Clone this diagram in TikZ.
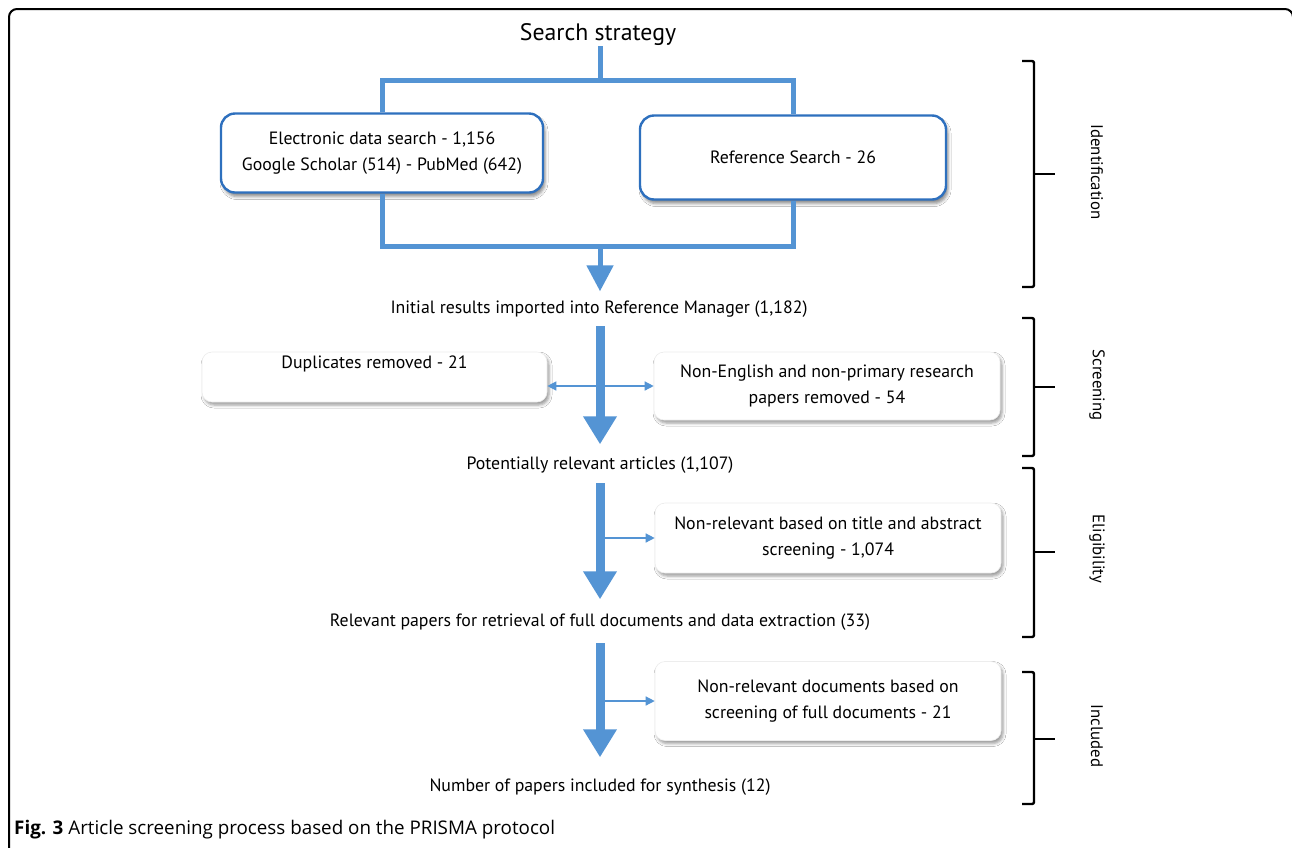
\documentclass[tikz,border=0pt]{standalone}
\usepackage{fontspec}
\setmainfont{PT Sans}
\newfontfamily\capfont{Open Sans}
\usetikzlibrary{arrows.meta,shadows.blur}
\definecolor{lineblue}{RGB}{84,148,212}
\definecolor{boxblue}{RGB}{46,112,190}
\begin{document}
\begin{tikzpicture}[x=1pt,y=-1pt,
  idbox/.style={draw=boxblue, line width=2.4pt, fill=white, rounded corners=14pt,
    align=center, font=\fontsize{17.8}{26}\selectfont, inner sep=0pt,
    blur shadow={shadow xshift=2pt, shadow yshift=-4pt, shadow blur radius=3pt, shadow opacity=45}},
  graybox/.style={draw=black!7, line width=0.6pt, fill=white, rounded corners=10pt,
    align=center, font=\fontsize{17.8}{26.5}\selectfont, inner sep=0pt,
    blur shadow={shadow xshift=2pt, shadow yshift=-3pt, shadow blur radius=3pt, shadow opacity=40}},
  lbl/.style={font=\fontsize{17.8}{20}\selectfont, inner sep=0pt, minimum height=17pt},
  conn/.style={draw=lineblue, line width=5pt},
  big/.style={draw=lineblue, line width=9pt, -{Triangle[width=32pt,length=28pt]}},
  small/.style={draw=lineblue, line width=5pt, -{Triangle[width=26pt,length=26pt]}},
  thin/.style={draw=lineblue, line width=1.3pt, -{Triangle[width=9pt,length=9pt]}},
  thinboth/.style={draw=lineblue, line width=1.3pt, {Triangle[width=9pt,length=9pt]}-{Triangle[width=9pt,length=9pt]}},
  brk/.style={draw=black, line width=2.4pt, rounded corners=2pt},
  phase/.style={rotate=-90, font=\fontsize{16.8}{19}\selectfont, inner sep=0pt}
]
\clip (0,0) rectangle (1292,847);
\fill[white] (0,0) rectangle (1292,847);
\draw[line width=2pt, rounded corners=8pt] (9,870) -- (9,9) -- (1293,9) -- (1293,870);

% nodes
\node[font=\fontsize{23.8}{26}\selectfont, inner sep=0pt, minimum height=22pt] (title) at (598,35) {Search strategy};
\node[idbox, minimum width=322pt, minimum height=79pt] (e) at (382,153) {Electronic data search - 1,156\\Google Scholar (514) - PubMed (642)};
\node[idbox, minimum width=306pt, minimum height=84pt] (r) at (793,157.5) {Reference Search - 26};
\node[lbl] (l1) at (599,309) {Initial results imported into Reference Manager (1,182)};
\node[graybox, minimum width=345pt, minimum height=50pt] (dup) at (374.5,377) {Duplicates removed - 21\\[-4pt]\strut};
\node[graybox, minimum width=346pt, minimum height=68pt] (ne) at (827,386) {Non-English and non-primary research\\papers removed - 54};
\node[lbl] (l2) at (600,465) {Potentially relevant articles (1,107)};
\node[graybox, minimum width=346pt, minimum height=70pt] (ta) at (828,538) {Non-relevant based on title and abstract\\screening - 1,074};
\node[lbl] (l3) at (600,622) {Relevant papers for retrieval of full documents and data extraction (33)};
\node[graybox, minimum width=346pt, minimum height=79pt] (fd) at (828,701) {Non-relevant documents based on\\screening of full documents - 21};
\node[lbl] (l4) at (600,787) {Number of papers included for synthesis (12)};

% junction coordinates
\coordinate (jt) at (600,80);
\coordinate (jb) at (600,246);
\coordinate (a2) at (600,326);
\coordinate (a3) at (600,483);
\coordinate (a4) at (600,643);

% identification connectors
\draw[conn] (title.south -| jt) -- (jt);
\draw[conn] (e.north) |- (jt) -| (r.north);
\draw[conn] (e.south) |- (jb) -| (r.south);
\draw[small, shorten >=9pt] (jb) -- (jb |- l1.north);

% main arrows
\draw[big, shorten >=12pt] (a2) -- (a2 |- l2.north);
\draw[big, shorten >=14pt] (a3) -- (a3 |- l3.north);
\draw[big, shorten >=21pt] (a4) -- (a4 |- l4.north);

% side arrows
\draw[thinboth] (dup.east |- ne.west) -- (ne.west);
\draw[thin] (ta.west -| a3) ++(5,0) -- (ta.west);
\draw[thin] (fd.west -| a4) ++(5,0) -- (fd.west);

% phase brackets
\draw[brk] (1022,61) -- (1034,61) -- (1034,287) -- (1022,287);
\draw[brk] (1034,174) -- (1055,174);
\node[phase] (pi) at (1097,172) {Identification};
\draw[brk] (1022,318) -- (1034,318) -- (1034,456) -- (1022,456);
\draw[brk] (1034,387) -- (1055,387);
\node[phase] (ps) at (1097,385) {Screening};
\draw[brk] (1022,468) -- (1034,468) -- (1034,637) -- (1022,637);
\draw[brk] (1034,552) -- (1055,552);
\node[phase] (pe) at (1097,549) {Eligibility};
\draw[brk] (1022,672) -- (1034,672) -- (1034,804) -- (1022,804);
\draw[brk] (1034,739) -- (1055,739);
\node[phase] (pn) at (1097,736) {Included};

% caption
\node[anchor=west, inner sep=0pt, font=\capfont\fontsize{18.8}{21}\selectfont] (cap) at (14,830) {\textbf{Fig. 3} Article screening process based on the PRISMA protocol};
\end{tikzpicture}
\end{document}
